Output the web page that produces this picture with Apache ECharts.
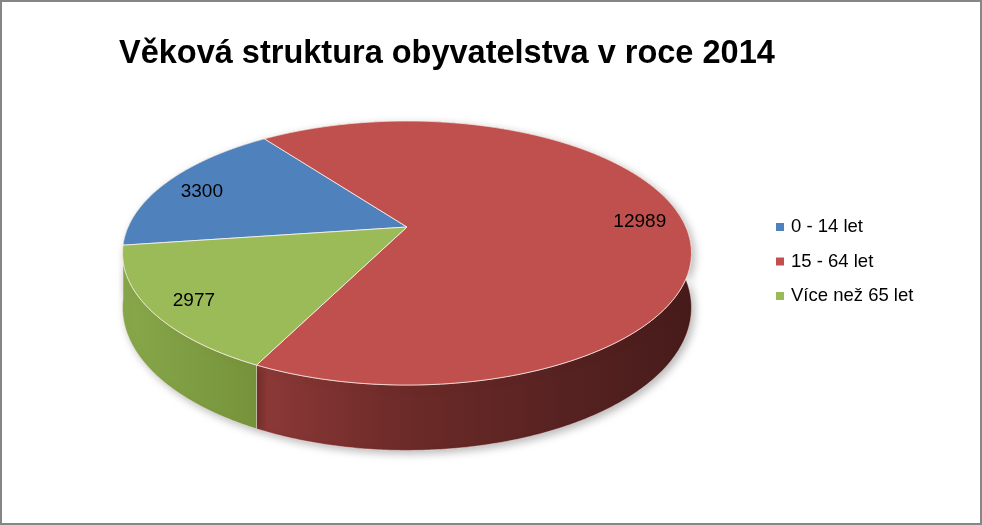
<!DOCTYPE html>
<html><head><meta charset="utf-8">
<script src="https://cdn.jsdelivr.net/npm/echarts@6/dist/echarts.min.js"></script>
<style>html,body{margin:0;padding:0;background:#fff}#chart{width:982px;height:525px}</style>
</head><body><div id="chart"></div>
<script>
// ---- data ----
const categories = ['0 - 14 let', '15 - 64 let', 'Více než 65 let'];
const values = [3300, 12989, 2977];
const titleText = 'Věková struktura obyvatelstva v roce 2014';

// ---- styles ----
const topColors = ['#4F81BD', '#C0504D', '#9BBB59'];
const wallStops = [
  [[0, '#45709F'], [1, '#2C4A6E']],
  [[0, '#9A403D'], [0.25, '#8B3937'], [0.5, '#6C2A28'], [0.75, '#582322'], [1, '#461B1A']],
  [[0, '#88A84B'], [0.25, '#75923A'], [1, '#5E7530']]
];
const G = { cx: 407, cy: 227, a: 278.9, b: 126.9, k: 0.197, depth: 52.5, startDeg: 262, labelR: 0.85, labelDy: 4 };
const FONT = "'Liberation Sans', Arial, sans-serif";

const total = values.reduce((s, v) => s + v, 0);
function proj(deg, r, h) {
  const t = deg * Math.PI / 180;
  const u = r * Math.sin(t), v = -r * Math.cos(t);
  const w = 1 - G.k * v;
  return [G.cx + G.a * u / w, G.cy + (G.b * v + h * G.depth) / w];
}
function sliceRange(i, val) {
  let s = 0;
  for (let j = 0; j < i; j++) s += values[j];
  return [G.startDeg + s / total * 360, G.startDeg + (s + val) / total * 360];
}
function arc(d0, d1, h) {
  const pts = [];
  const n = Math.max(2, Math.ceil(Math.abs(d1 - d0) / 0.5));
  for (let i = 0; i <= n; i++) pts.push(proj(d0 + (d1 - d0) * i / n, 1, h));
  return pts;
}
function wallFill(i) {
  return {
    type: 'linear', x: G.cx - G.a - 8, y: 0, x2: G.cx + G.a + 8, y2: 0, global: true,
    colorStops: wallStops[i].map(s => ({ offset: s[0], color: s[1] }))
  };
}

const chart = echarts.init(document.getElementById('chart'), null, { renderer: 'canvas' });
chart.setOption({
  animation: false,
  backgroundColor: '#ffffff',
  color: topColors,
  title: {
    text: titleText, left: 119, top: 38, padding: 0,
    textStyle: { fontFamily: FONT, fontWeight: 'bold', fontSize: 32.5, color: '#000' }
  },
  legend: {
    orient: 'vertical', left: 771, top: 212, itemWidth: 8, itemHeight: 8, itemGap: 14.5, icon: 'rect',
    data: categories,
    textStyle: { fontFamily: FONT, fontSize: 18.5, lineHeight: 20, color: '#000', padding: [0, 0, 0, 2] }
  },
  graphic: [{
    type: 'rect', silent: true, z: 100,
    shape: { x: 1, y: 1, width: 980, height: 523 },
    style: { fill: 'none', stroke: '#868686', lineWidth: 2 }
  }],
  series: [
    {
      type: 'pie', name: 'legendCarrier', center: [-300, -300], radius: [0, 1], silent: true,
      label: { show: false }, labelLine: { show: false },
      data: categories.map((c, i) => ({ name: c, value: values[i] }))
    },
    {
      type: 'custom', name: 'walls', coordinateSystem: 'none', z: 1, silent: true,
      data: values,
      renderItem: function (params, api) {
        const i = params.dataIndex;
        const [d0, d1] = sliceRange(i, api.value(0));
        const pts = arc(d0, d1, 0).concat(arc(d1, d0, 1));
        return {
          type: 'polygon', shape: { points: pts },
          style: {
            fill: wallFill(i), stroke: 'rgba(255,240,235,0.55)', lineWidth: 0.8,
            shadowBlur: 8, shadowColor: 'rgba(0,0,0,0.28)', shadowOffsetX: 3, shadowOffsetY: 3
          }
        };
      }
    },
    {
      type: 'custom', name: 'tops', coordinateSystem: 'none', z: 2, silent: true,
      data: values,
      renderItem: function (params, api) {
        const i = params.dataIndex;
        const val = api.value(0);
        const [d0, d1] = sliceRange(i, val);
        const pts = [proj(0, 0, 0)].concat(arc(d0, d1, 0));
        const lp = proj((d0 + d1) / 2, G.labelR, 0);
        return {
          type: 'group',
          children: [
            {
              type: 'polygon', shape: { points: pts },
              style: { fill: topColors[i], stroke: 'rgba(255,245,240,0.75)', lineWidth: 1, lineJoin: 'round' }
            },
            {
              type: 'text', x: lp[0], y: lp[1] + G.labelDy, z2: 10,
              style: { text: String(val), fill: '#000', fontSize: 19, fontFamily: FONT, align: 'center', verticalAlign: 'middle' }
            }
          ]
        };
      }
    }
  ]
});
</script>
</body></html>
